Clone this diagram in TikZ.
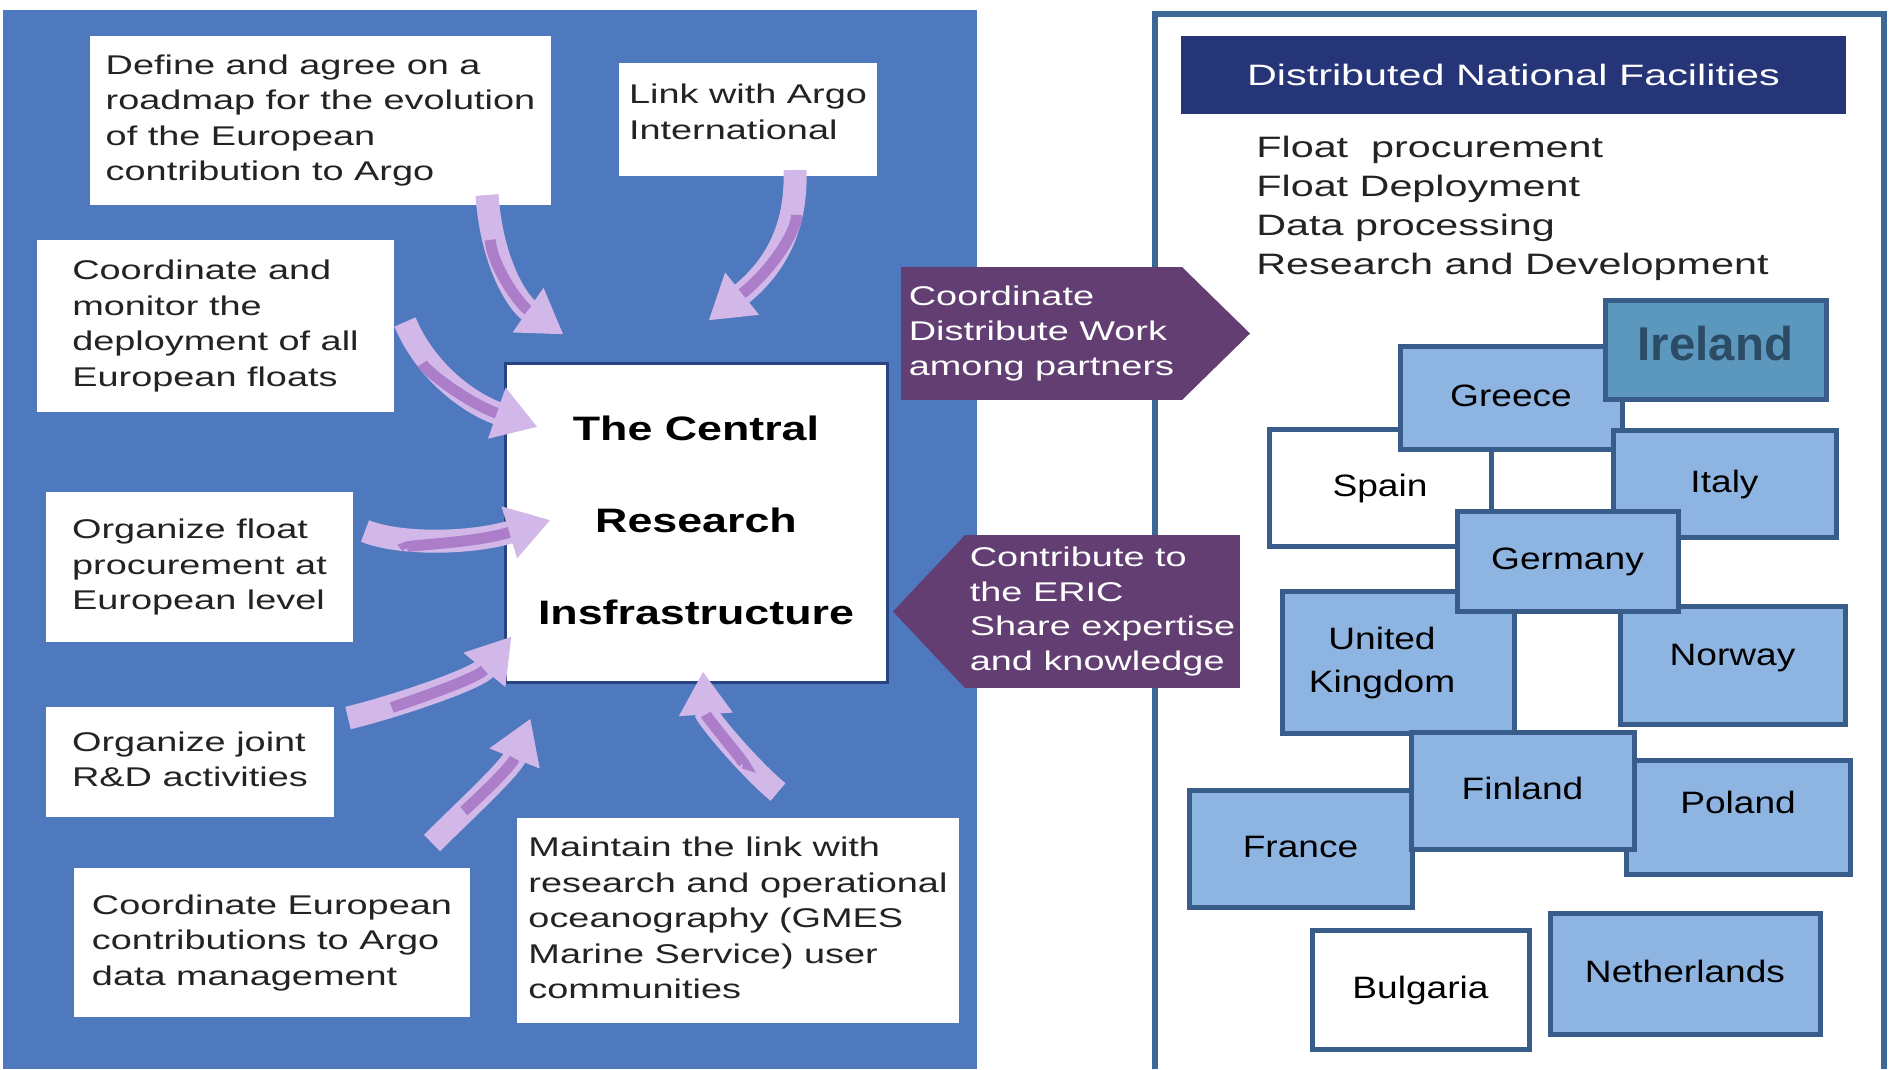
\documentclass[tikz,border=0pt]{standalone}
\usepackage{fontspec}
\setmainfont{Liberation Sans}
\usepackage{graphicx}
\usepackage{xcolor}
\usetikzlibrary{arrows.meta,calc}

\newlength{\pix}
\setlength{\pix}{0.02cm}

\definecolor{panelblue}{RGB}{79,121,190}
\definecolor{ribbonpurple}{RGB}{98,62,114}
\definecolor{headnavy}{RGB}{38,52,120}
\definecolor{frameblue}{RGB}{60,104,150}
\definecolor{countryfill}{RGB}{142,180,226}
\definecolor{countryedge}{RGB}{56,93,138}
\definecolor{irelandfill}{RGB}{92,152,190}
\definecolor{irelandtext}{RGB}{44,76,102}
\definecolor{arrowlight}{RGB}{210,184,232}
\definecolor{arrowdark}{RGB}{172,126,202}
\definecolor{inktext}{RGB}{35,35,35}
\definecolor{cribedge}{RGB}{40,66,130}

% the slide text is stretched sideways
\newcommand{\stretched}[2][1.4]{\scalebox{#1}[1]{\begin{tabular}[t]{@{}l@{}}#2\end{tabular}}}
\newcommand{\stretchedc}[2][1.2]{\scalebox{#1}[1]{\begin{tabular}[t]{@{}c@{}}#2\end{tabular}}}

\begin{document}
\begin{tikzpicture}[
    x=1\pix, y=-1\pix,
    task/.style={fill=white, inner sep=0pt, outer sep=0pt, text=inktext, font=\fontsize{15.4}{20.2}\selectfont},
    ribbon/.style={fill=ribbonpurple, inner sep=0pt, outer sep=0pt, text=white, font=\fontsize{15.4}{19.9}\selectfont},
    country/.style={draw=countryedge, line width=5\pix, fill=countryfill, inner sep=0pt, text=black, font=\fontsize{17.6}{24.5}\selectfont},
    flow/.style={-{Triangle[length=0.86cm, width=1.02cm]}, line width=0.46cm, draw=arrowlight,
        postaction={draw=arrowdark, line width=0.22cm, -, shorten >=0.86cm, shorten <=0.9cm}}
]
\fill[white] (0,0) rectangle (1889,1069);
\useasboundingbox (0,0) rectangle (1889,1069);

% left panel
\fill[panelblue] (3,10) rectangle (977,1069);

\node[task, minimum width=461\pix, minimum height=169\pix] (roadmap) at (320.5,120.5)
    {\stretched{Define and agree on a\\roadmap for the evolution\\of the European\\contribution to Argo}};
\node[task, minimum width=258\pix, minimum height=113\pix, text depth=32pt] (intl) at (748,119.5)
    {\stretched{Link with Argo\\International}};
\node[task, minimum width=357\pix, minimum height=172\pix] (monitor) at (215.5,326)
    {\stretched{Coordinate and\\monitor the\\deployment of all\\European floats}};
\node[task, minimum width=307\pix, minimum height=150\pix] (procure) at (199.5,567)
    {\stretched{Organize float\\procurement at\\European level}};
\node[task, minimum width=288\pix, minimum height=110\pix] (joint) at (190,762)
    {\stretched{Organize joint\\R\&D activities}};
\node[task, minimum width=396\pix, minimum height=149\pix] (datamgmt) at (272,942.5)
    {\stretched{Coordinate European\\contributions to Argo\\data management}};
\node[task, minimum width=442\pix, minimum height=205\pix] (users) at (738,920.5)
    {\stretched{Maintain the link with\\research and operational\\oceanography (GMES\\Marine Service) user\\communities}};

\node[draw=cribedge, line width=3\pix, fill=white, inner sep=0pt, minimum width=382\pix, minimum height=319\pix,
    text depth=129.7pt, font=\bfseries\fontsize{19.3}{52.4}\selectfont] (crib) at (696,522.5)
    {\stretchedc[1.32]{The Central\\Research\\Insfrastructure}};

\draw[flow] ($(roadmap.south east)+(-64,-10)$) .. controls +(5,70) and +(-45,-31) .. ($(crib.north west)+(60,-27)$);
\draw[flow] ($(intl.south east)+(-82,-6)$) .. controls +(2,60) and +(65,-52) .. ($(crib.north west)+(205,-41)$);
\draw[flow] ($(monitor.east)+(11,-4)$) .. controls +(20,48) and +(-70,-24) .. ($(crib.west)+(34,-95.5)$);
\draw[flow] ($(procure.east)+(12,-36)$) .. controls +(35,14) and +(-80,24) .. ($(crib.west)+(47,-2.5)$);
\draw[flow] ($(joint.east)+(14,-44)$) .. controls +(42,-10) and +(-35,43) .. ($(crib.south west)+(8,-47)$);
\draw[flow] ($(datamgmt.north east)+(-38,-25)$) .. controls +(30,-30) and +(-20,50) .. ($(crib.south west)+(27,35)$);
\draw[flow] ($(users.north)+(40,-26)$) .. controls +(-30,-25) and +(3,45) .. ($(crib.south)+(7,-12)$);

% right panel
\draw[frameblue, line width=6\pix] (1155,1069) -- (1155,14) -- (1884,14) -- (1884,1069);

\node[fill=headnavy, text=white, inner sep=0pt, minimum width=665\pix, minimum height=78\pix, text depth=1.5pt,
    font=\fontsize{16.8}{20}\selectfont] (dnf) at (1513.5,75) {\stretched{Distributed National Facilities}};
\node[anchor=base west, inner sep=0pt, text=inktext, font=\fontsize{16.8}{22.2}\selectfont] (duties) at (1256,157)
    {\stretched{Float~~procurement\\Float Deployment\\Data processing\\Research and Development}};

% ribbons between the panels
\node[ribbon, minimum width=281\pix, minimum height=133\pix] (share) at (1041.5,333.5)
    {\stretched{Coordinate\\Distribute Work\\among partners}};
\fill[ribbonpurple] (share.north east) -- ++(68,66.5) -- (share.south east) -- cycle;
\node[ribbon, minimum width=275\pix, minimum height=153\pix] (contrib) at (1102.5,611.5)
    {\stretched{Contribute to\\the ERIC\\Share expertise\\and knowledge}};
\fill[ribbonpurple] (contrib.north west) -- ++(-72,76.5) -- (contrib.south west) -- cycle;

% countries
\node[country, fill=white, minimum width=222\pix, minimum height=117\pix] (spain) at (1380,487.5) {\stretchedc{Spain}};
\node[country, minimum width=232\pix, minimum height=142\pix] (uk) at (1398,662) {\stretchedc{United\\Kingdom}\hspace*{32\pix}};
\node[country, minimum width=225\pix, minimum height=118\pix, text depth=16.5pt] (norway) at (1732.5,665) {\stretchedc{Norway}};
\node[country, minimum width=222\pix, minimum height=103\pix] (greece) at (1511,397.5) {\stretchedc{Greece}};
\node[country, fill=irelandfill, text=irelandtext, minimum width=221\pix, minimum height=99\pix,
    font=\bfseries\fontsize{27}{30}\selectfont] (ireland) at (1715.5,349.5) {\stretchedc[1.0]{Ireland}};
\node[country, minimum width=223\pix, minimum height=107\pix] (italy) at (1724.5,483.5) {\stretchedc{Italy}};
\node[country, minimum width=221\pix, minimum height=100\pix] (germany) at (1567.5,561) {\stretchedc{Germany}};
\node[country, minimum width=223\pix, minimum height=117\pix] (france) at (1300.5,848.5) {\stretchedc{France}};
\node[country, minimum width=224\pix, minimum height=114\pix, text depth=21pt] (poland) at (1738,817) {\stretchedc{Poland}};
\node[country, minimum width=223\pix, minimum height=117\pix] (finland) at (1522.5,790.5) {\stretchedc{Finland}};
\node[country, fill=white, minimum width=217\pix, minimum height=119\pix] (bulgaria) at (1420.5,989.5) {\stretchedc{Bulgaria}};
\node[country, minimum width=270\pix, minimum height=121\pix] (netherlands) at (1685,973.5) {\stretchedc{Netherlands}};
\end{tikzpicture}
\end{document}
